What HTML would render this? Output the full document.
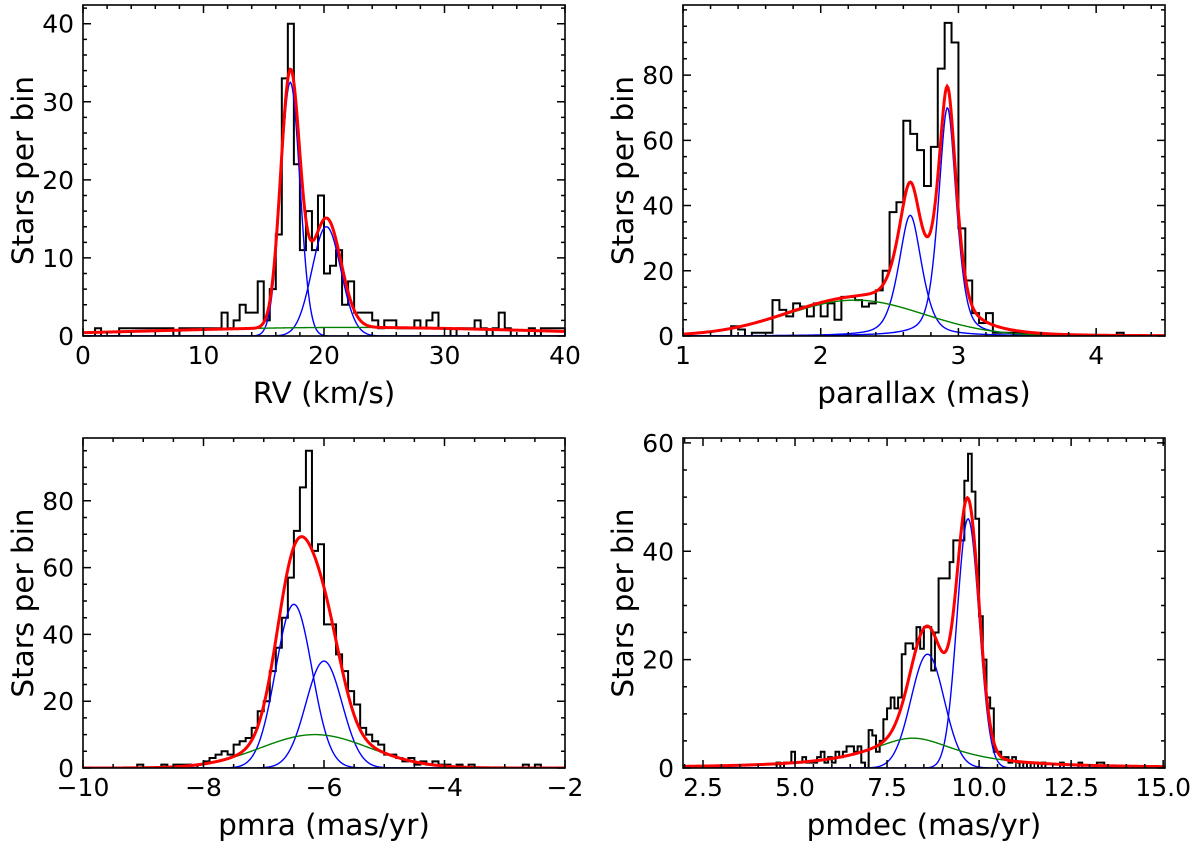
<!DOCTYPE html>
<html><head><meta charset="utf-8"><style>
html,body{margin:0;padding:0;background:#fff;}
svg text{font-family:"DejaVu Sans","Liberation Sans",sans-serif;fill:#000;}
</style></head><body>
<svg id="fig" width="1200" height="843" viewBox="0 0 1200 843" xmlns="http://www.w3.org/2000/svg"></svg>
<script>
// ---------- Panel 1: RV ----------
const rvBinStart = 0, rvBinWidth = 0.5;
const rvCounts = [0,0,1,0,0,0,1,1,1,1,1,1,1,1,1,0,1,1,1,1,
  1,1,1,3,1,2,4,3,3,7,2,6,13,33,40,22,11,16,11,18,
  8,9,11,4,7,3,3,3,2,1,2,2,1,1,1,2,1,2,3,1,
  1,0,1,1,1,2,1,0,1,3,1,0,0,0,1,0,1,1,1,1];
const rvComponents = [
  {kind:'g', amp:32.5, mu:17.2, w:0.8, color:'blue'},
  {kind:'g', amp:14, mu:20.2, w:1.2, color:'blue'},
  {kind:'g', amp:1.1, mu:22, w:16, color:'green'}];
const rvXTicks = [0,10,20,30,40];
const rvYTicks = [0,10,20,30,40];

// ---------- Panel 2: parallax ----------
const plxBinStart = 1.0, plxBinWidth = 0.05;
const plxCounts = [0,0,0,0,0,0,0,
  3,2,0,1,1,1,11,8,6,10,9,6,10,6,10,5,12,12,11,9,10,14,20,38,41,66,62,57,46,58,82,96,90,33,17,7,4,7,1,1,1,1,1,
  0,0,0,0,0,0,0,0,0,0,0,0,0,1,0,0,0,0,0,0];
const plxComponents = [
  {kind:'v', amp:37, mu:2.65, w:0.09, color:'blue'},
  {kind:'v', amp:70, mu:2.92, w:0.07, color:'blue'},
  {kind:'g', amp:11, mu:2.25, w:0.5, color:'green'}];
const plxXTicks = [1,2,3,4];
const plxYTicks = [0,20,40,60,80];

// ---------- Panel 3: pmra ----------
const pmraBinStart = -10, pmraBinWidth = 0.1;
const pmraCounts = [0,0,0,0,0,0,0,0,0,1,
  0,0,0,1,0,1,1,1,0,1,
  2,3,4,5,4,7,8,9,12,17,
  20,29,36,45,57,71,84,95,65,67,
  43,43,34,29,23,19,12,10,8,7,
  4,4,3,2,3,1,2,1,2,1,
  1,0,1,0,1,0,0,0,0,0,
  0,0,0,1,0,1,0,0,0,0];
const pmraComponents = [
  {kind:'g', amp:49, mu:-6.5, w:0.3, color:'blue'},
  {kind:'g', amp:32, mu:-6.0, w:0.3, color:'blue'},
  {kind:'g', amp:10, mu:-6.15, w:0.9, color:'green'}];
const pmraXTicks = [-10,-8,-6,-4,-2];
const pmraXTickLabels = ['\u221210','\u22128','\u22126','\u22124','\u22122'];
const pmraYTicks = [0,20,40,60,80];

// ---------- Panel 4: pmdec ----------
const pmdecBinStart = 2.0, pmdecBinWidth = 0.1;
const pmdecCounts = [0,0,0,0,0,0,0,0,0,0,0,0,0,0,0,0,0,0,0,0,0,0,0,0,0,
  1,0,1,1,3,1,1,2,1,1,1,2,3,1,2,1,3,2,3,4,4,3,4,1,0,
  7,6,3,5,9,11,13,11,13,21,23,23,22,26,22,26,26,18,25,35,35,35,38,42,42,42,53,58,51,46,28,20,13,11,3,3,2,2,1,2,
  1,0,1,0,1,1,0,1,0,0,0,0,1,0,0,0,0,1,0,0,0,0,1,1,0,0,0,0,0,0,0,0,0,0,0,0,0,0,0,0];
const pmdecComponents = [
  {kind:'g', amp:21, mu:8.6, w:0.45, color:'blue'},
  {kind:'g', amp:46, mu:9.7, w:0.3, color:'blue'},
  {kind:'l', amp:5.5, mu:8.2, w:1.5, color:'green'}];
const pmdecXTicks = [2.5,5,7.5,10,12.5,15];
const pmdecXTickLabels = ['2.5','5.0','7.5','10.0','12.5','15.0'];
const pmdecYTicks = [0,20,40,60];

const NS = 'http://www.w3.org/2000/svg';
const svg = document.getElementById('fig');
function mk(tag, attrs, parent){
  const e = document.createElementNS(NS, tag);
  for (const k in attrs) e.setAttribute(k, attrs[k]);
  (parent||svg).appendChild(e);
  return e;
}
function prof(c, x){
  const d = (x - c.mu) / c.w;
  if (c.kind === 'g') return c.amp * Math.exp(-0.5*d*d);
  if (c.kind === 'l') return c.amp / (1 + d*d);
  return c.amp * (0.5*Math.exp(-0.5*d*d) + 0.5/(1 + d*d));
}

function panel(cfg){
  const {name, L, T, R, B, xmin, xmax, ymax, xTicks, xLabels, xMinor, yTicks, yMinor, binStart, binWidth, counts, comps, xlabel} = cfg;
  const g = mk('g', {});
  
  
  const sx = v => L + (v - xmin) / (xmax - xmin) * (R - L);
  const sy = v => B - v / ymax * (B - T);
  const clipId = 'clip-' + name;
  const cp = mk('clipPath', {id: clipId}, g);
  mk('rect', {x: L, y: T, width: R-L, height: B-T}, cp);

  let d = 'M' + sx(binStart) + ',' + sy(0);
  counts.forEach((c, i) => {
    const x0 = sx(binStart + i*binWidth), x1 = sx(binStart + (i+1)*binWidth);
    d += ' L' + x0 + ',' + sy(c) + ' L' + x1 + ',' + sy(c);
  });
  d += ' L' + sx(binStart + counts.length*binWidth) + ',' + sy(0);
  const hist = mk('path', {d: d, fill: 'none', stroke: '#000', 'stroke-width': 2, 'clip-path': 'url(#' + clipId + ')'}, g);
  
  

  const N = 500;
  comps.forEach((c, ci) => {
    let p = '';
    for (let k = 0; k <= N; k++){
      const x = xmin + (xmax - xmin) * k / N;
      p += (k ? ' L' : 'M') + sx(x).toFixed(2) + ',' + sy(prof(c, x)).toFixed(2);
    }
    const line = mk('path', {d: p, fill: 'none', stroke: c.color === 'green' ? '#008000' : '#0000ff', 'stroke-width': 1.4, 'clip-path': 'url(#' + clipId + ')'}, g);
    
    
  });
  let p = '';
  for (let k = 0; k <= N; k++){
    const x = xmin + (xmax - xmin) * k / N;
    let s = 0; comps.forEach(c => s += prof(c, x));
    p += (k ? ' L' : 'M') + sx(x).toFixed(2) + ',' + sy(s).toFixed(2);
  }
  const tot = mk('path', {d: p, fill: 'none', stroke: '#ff0000', 'stroke-width': 3, 'clip-path': 'url(#' + clipId + ')'}, g);
  
  

  let tk = '';
  const xm = xMinor;
  for (let v = Math.ceil(xmin/xm)*xm; v <= xmax + 1e-9; v += xm){
    const isMaj = xTicks.some(t => Math.abs(t - v) < 1e-6);
    const len = isMaj ? 8 : 4, X = sx(v);
    tk += 'M'+X+','+B+' v-'+len+' M'+X+','+T+' v'+len+' ';
  }
  for (let v = 0; v <= ymax + 1e-9; v += yMinor){
    const isMaj = yTicks.some(t => Math.abs(t - v) < 1e-6);
    const len = isMaj ? 8 : 4, Y = sy(v);
    tk += 'M'+L+','+Y+' h'+len+' M'+R+','+Y+' h-'+len+' ';
  }
  const ticks = mk('path', {d: tk, stroke: '#000', 'stroke-width': 1.5, fill: 'none'}, g);
  
  

  const frame = mk('rect', {x: L, y: T, width: R-L, height: B-T, fill: 'none', stroke: '#000', 'stroke-width': 1.6}, g);
  
  

  xTicks.forEach((v, i) => {
    const t = mk('text', {x: sx(v), y: B + 28, 'font-size': 25, 'text-anchor': 'middle'}, g);
    t.textContent = xLabels ? xLabels[i] : String(v);
    
    
  });
  yTicks.forEach(v => {
    const t = mk('text', {x: L - 9, y: sy(v) + 9, 'font-size': 25, 'text-anchor': 'end'}, g);
    t.textContent = String(v);
    
    
  });
  const xl = mk('text', {x: (L+R)/2, y: B + 67, 'font-size': 29.5, 'text-anchor': 'middle'}, g);
  xl.textContent = xlabel;
  
  
  const yx = L - 50, yy = (T+B)/2;
  const yl = mk('text', {x: yx, y: yy, 'font-size': 29.5, 'text-anchor': 'middle', transform: 'rotate(-90 ' + yx + ' ' + yy + ')'}, g);
  yl.textContent = 'Stars per bin';
  
  
}

panel({name:'rv', L:83, T:5, R:565, B:336, xmin:0, xmax:40, ymax:42.4, xTicks:rvXTicks, xMinor:2, yTicks:rvYTicks, yMinor:2,
  binStart:rvBinStart, binWidth:rvBinWidth, counts:rvCounts, comps:rvComponents, xlabel:'RV (km/s)'});
panel({name:'parallax', L:683, T:5, R:1165, B:336, xmin:1, xmax:4.5, ymax:101.5, xTicks:plxXTicks, xMinor:0.2, yTicks:plxYTicks, yMinor:5,
  binStart:plxBinStart, binWidth:plxBinWidth, counts:plxCounts, comps:plxComponents, xlabel:'parallax (mas)'});
panel({name:'pmra', L:83, T:438, R:565, B:768, xmin:-10, xmax:-2, ymax:98.8, xTicks:pmraXTicks, xLabels:pmraXTickLabels, xMinor:0.5, yTicks:pmraYTicks, yMinor:5,
  binStart:pmraBinStart, binWidth:pmraBinWidth, counts:pmraCounts, comps:pmraComponents, xlabel:'pmra (mas/yr)'});
panel({name:'pmdec', L:683, T:438, R:1165, B:768, xmin:1.957, xmax:15.05, ymax:60.9, xTicks:pmdecXTicks, xLabels:pmdecXTickLabels, xMinor:0.5, yTicks:pmdecYTicks, yMinor:5,
  binStart:pmdecBinStart, binWidth:pmdecBinWidth, counts:pmdecCounts, comps:pmdecComponents, xlabel:'pmdec (mas/yr)'});
</script>
</body></html>
